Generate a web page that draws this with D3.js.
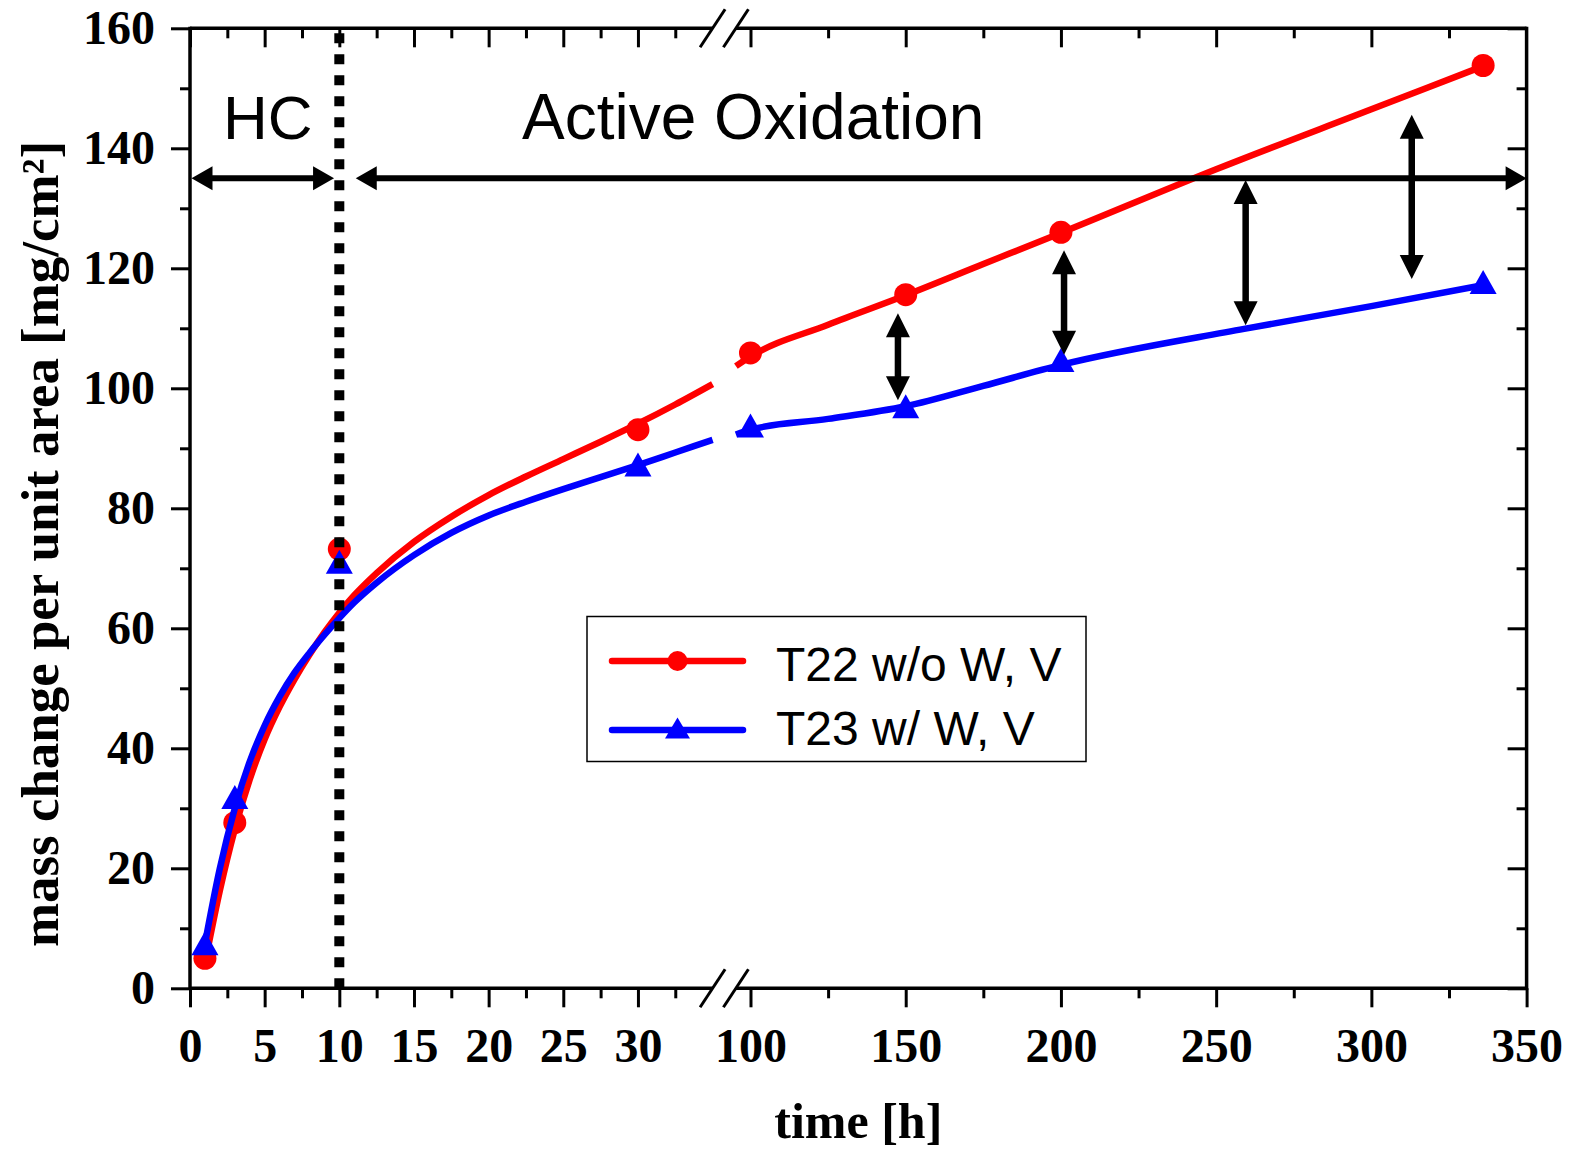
<!DOCTYPE html>
<html>
<head>
<meta charset="utf-8">
<script src="https://cdn.jsdelivr.net/npm/d3@7"></script>
<style>
  body { margin: 0; background: #fff; }
  svg { display: block; }
  .tick text { font-family: "Liberation Serif", "Times New Roman", serif; font-weight: bold; font-size: 48px; fill: #000; }
  .tick line { stroke: #000; stroke-width: 3px; }
</style>
</head>
<body>
<svg id="chart" width="1577" height="1154"></svg>
<script>
// measured points (time in h, mass change in mg/cm2)
var timeH = [1, 3, 10, 30, 100, 150, 200, 336];
var t22 = [5.0, 27.6, 73.2, 93.1, 105.9, 115.6, 126.0, 153.8];
var t23 = [7.5, 31.9, 71.1, 87.3, 93.8, 97.0, 104.7, 117.7];

// fitted curves (left part up to the break, right part after it)
var fitT22Left = [[1.2, 6.7], [2, 16.3], [3, 26.5], [4, 34.8], [5, 41.5], [6, 46.9], [7, 51.5], [8, 55.6], [9, 59.3],
  [10, 62.6], [11, 65.5], [12.5, 69.2], [15, 74.4], [17.5, 78.6], [20, 82.2], [22.5, 85.3], [25, 88.2],
  [27.5, 91.1], [30, 94.1], [32.5, 97.3], [35, 100.7]];
var fitT22Right = [[95.3, 103.7], [100, 105.3], [125, 110.6], [150, 115.5], [175, 120.7], [200, 125.9],
  [250, 136.5], [300, 146.5], [336, 153.7]];
var fitT23Left = [[0.96, 6.9], [2, 20.0], [3, 30.0], [4, 37.8], [5, 43.8], [6, 48.6], [7, 52.6], [8, 55.9], [9, 58.9],
  [10, 61.7], [11, 64.3], [12.5, 67.6], [15, 72.2], [17.5, 75.9], [20, 78.8], [22.5, 81.1], [25, 83.2],
  [27.5, 85.2], [30, 87.2], [32.5, 89.3], [35, 91.4]];
var fitT23Right = [[95.3, 92.3], [100, 93.1], [125, 94.9], [150, 97.0], [175, 100.4], [200, 103.9],
  [259, 109.9], [300, 113.7], [336, 117.2]];

// double arrows showing the gap between both steels
var gapArrowT = [147.5, 201, 259.5, 313];
var gapArrowTop = [112.5, 123.0, 134.7, 145.6];
var gapArrowBottom = [98.0, 105.6, 110.5, 118.2];

// phase arrows: HC and active oxidation
var phaseArrows = [[0, 9.65], [11, 350]];
var phaseLevel = 135;
var hcEnd = 10;

// ticks
var xTicksLeft = [0, 5, 10, 15, 20, 25, 30];
var xMinorLeft = [2.5, 7.5, 12.5, 17.5, 22.5, 27.5, 32.5];
var xTicksRight = [100, 150, 200, 250, 300, 350];
var xMinorRight = [125, 175, 225, 275, 325];
var yTicks = [0, 20, 40, 60, 80, 100, 120, 140, 160];
var yMinor = [10, 30, 50, 70, 90, 110, 130, 150];

var legendNames = ["T22 w/o W, V", "T23 w/ W, V"];

var svg = d3.select("#chart");

var plotLeft = 190, plotRight = 1526.6, plotTop = 28.3, plotBottom = 988.3;

// broken time axis: two linear pieces
var xL = d3.scaleLinear().domain([0, 35]).range([plotLeft, 712.6]);
var xR = d3.scaleLinear().domain([95.3, 350]).range([735.9, plotRight]);
var xPos = function(t) { return t <= 35 ? xL(t) : xR(t); };
var y = d3.scaleLinear().domain([0, 160]).range([plotBottom, plotTop]);

function noDomain(g) { g.select(".domain").remove(); }

// bottom axis
svg.append("g").attr("transform", "translate(0," + plotBottom + ")")
  .call(d3.axisBottom(xL).tickValues(xTicksLeft).tickSize(19).tickPadding(21)).call(noDomain);
svg.append("g").attr("transform", "translate(0," + plotBottom + ")")
  .call(d3.axisBottom(xL).tickValues(xMinorLeft).tickSize(10).tickFormat("")).call(noDomain);
svg.append("g").attr("transform", "translate(0," + plotBottom + ")")
  .call(d3.axisBottom(xR).tickValues(xTicksRight).tickSize(19).tickPadding(21)).call(noDomain);
svg.append("g").attr("transform", "translate(0," + plotBottom + ")")
  .call(d3.axisBottom(xR).tickValues(xMinorRight).tickSize(10).tickFormat("")).call(noDomain);

// top axis, ticks inward
svg.append("g").attr("transform", "translate(0," + plotTop + ")")
  .call(d3.axisBottom(xL).tickValues(xTicksLeft).tickSize(19).tickFormat("")).call(noDomain);
svg.append("g").attr("transform", "translate(0," + plotTop + ")")
  .call(d3.axisBottom(xL).tickValues(xMinorLeft).tickSize(10).tickFormat("")).call(noDomain);
svg.append("g").attr("transform", "translate(0," + plotTop + ")")
  .call(d3.axisBottom(xR).tickValues(xTicksRight.slice(0, -1)).tickSize(19).tickFormat("")).call(noDomain);
svg.append("g").attr("transform", "translate(0," + plotTop + ")")
  .call(d3.axisBottom(xR).tickValues(xMinorRight).tickSize(10).tickFormat("")).call(noDomain);

// left axis
svg.append("g").attr("transform", "translate(" + plotLeft + ",0)")
  .call(d3.axisLeft(y).tickValues(yTicks).tickSize(19).tickPadding(16)).call(noDomain);
svg.append("g").attr("transform", "translate(" + plotLeft + ",0)")
  .call(d3.axisLeft(y).tickValues(yMinor).tickSize(10).tickFormat("")).call(noDomain);
// right axis, ticks inward
svg.append("g").attr("transform", "translate(" + plotRight + ",0)")
  .call(d3.axisLeft(y).tickValues(yTicks).tickSize(19).tickFormat("")).call(noDomain);
svg.append("g").attr("transform", "translate(" + plotRight + ",0)")
  .call(d3.axisLeft(y).tickValues(yMinor).tickSize(10).tickFormat("")).call(noDomain);

// frame with a gap at the break
var frame = svg.append("g").attr("stroke", "#000").attr("stroke-width", 3.5).attr("fill", "none");
frame.append("line").attr("x1", plotLeft).attr("x2", plotLeft).attr("y1", plotTop - 1.5).attr("y2", plotBottom + 1.5);
frame.append("line").attr("x1", plotRight).attr("x2", plotRight).attr("y1", plotTop - 1.5).attr("y2", plotBottom + 1.5);
[plotTop, plotBottom].forEach(function(yy) {
  frame.append("line").attr("x1", plotLeft).attr("x2", xL(35)).attr("y1", yy).attr("y2", yy);
  frame.append("line").attr("x1", xR(95.3)).attr("x2", plotRight).attr("y1", yy).attr("y2", yy);
  // break marks
  [xL(35), xR(95.3)].forEach(function(cx) {
    frame.append("line").attr("x1", cx - 12.5).attr("y1", yy + 19).attr("x2", cx + 12.5).attr("y2", yy - 19)
      .attr("stroke-width", 3);
  });
});

// curves and markers
var line = d3.line().x(function(d) { return xPos(d[0]); }).y(function(d) { return y(d[1]); })
  .curve(d3.curveMonotoneX);

function triangle(cx, cy, w, h) {
  return "M" + cx + "," + (cy - h / 2) + "L" + (cx + w / 2) + "," + (cy + h / 2) + "L" + (cx - w / 2) + "," + (cy + h / 2) + "Z";
}

[fitT22Left, fitT22Right].forEach(function(seg) {
  svg.append("path").datum(seg).attr("d", line).attr("fill", "none")
    .attr("stroke", "#ff0000").attr("stroke-width", 6.5);
});
svg.append("g").selectAll("circle").data(timeH).join("circle")
  .attr("cx", function(d) { return xPos(d); })
  .attr("cy", function(d, i) { return y(t22[i]); })
  .attr("r", 11.5).attr("fill", "#ff0000");

[fitT23Left, fitT23Right].forEach(function(seg) {
  svg.append("path").datum(seg).attr("d", line).attr("fill", "none")
    .attr("stroke", "#0000ff").attr("stroke-width", 6.5);
});
svg.append("g").selectAll("path").data(timeH).join("path")
  .attr("d", function(d, i) { return triangle(xPos(d), y(t23[i]), 27, 24); })
  .attr("fill", "#0000ff");

// dotted line at end of HC stage
svg.append("line")
  .attr("x1", xL(hcEnd)).attr("x2", xL(hcEnd))
  .attr("y1", plotBottom).attr("y2", plotTop)
  .attr("stroke", "#000").attr("stroke-width", 10).attr("stroke-dasharray", "10,11");

// arrows
function arrow(x1, y1, x2, y2, w, headLen, headHalf) {
  var dx = x2 - x1, dy = y2 - y1, len = Math.sqrt(dx * dx + dy * dy);
  var ux = dx / len, uy = dy / len;
  var g = svg.append("g");
  g.append("line")
    .attr("x1", x1 + ux * (headLen - 2)).attr("y1", y1 + uy * (headLen - 2))
    .attr("x2", x2 - ux * (headLen - 2)).attr("y2", y2 - uy * (headLen - 2))
    .attr("stroke", "#000").attr("stroke-width", w);
  [[x1, y1, 1], [x2, y2, -1]].forEach(function(p) {
    var bx = p[0] + p[2] * ux * headLen, by = p[1] + p[2] * uy * headLen;
    g.append("path")
      .attr("d", "M" + p[0] + "," + p[1] + "L" + (bx - uy * headHalf) + "," + (by + ux * headHalf) +
        "L" + (bx + uy * headHalf) + "," + (by - ux * headHalf) + "Z")
      .attr("fill", "#000");
  });
}

phaseArrows.forEach(function(a) {
  arrow(xPos(a[0]) + 1.5, y(phaseLevel), xPos(a[1]), y(phaseLevel), 6, 21, 12);
});
gapArrowT.forEach(function(t, i) {
  arrow(xPos(t), y(gapArrowTop[i]), xPos(t), y(gapArrowBottom[i]), 6.5, 24, 12);
});

// stage labels
svg.append("text").attr("x", 223).attr("y", 139)
  .attr("font-family", "Liberation Sans, Arial, sans-serif").attr("font-size", 62)
  .text("HC");
svg.append("text").attr("x", 522).attr("y", 139)
  .attr("font-family", "Liberation Sans, Arial, sans-serif").attr("font-size", 64)
  .text("Active Oxidation");

// legend
var legend = svg.append("g");
legend.append("rect").attr("x", 587).attr("y", 616.5).attr("width", 499).attr("height", 145)
  .attr("fill", "#fff").attr("stroke", "#000").attr("stroke-width", 1.5);
legendNames.forEach(function(name, i) {
  var ly = 661 + i * 69;
  var color = i === 0 ? "#ff0000" : "#0000ff";
  legend.append("line").attr("x1", 612).attr("x2", 743).attr("y1", ly).attr("y2", ly)
    .attr("stroke", color).attr("stroke-width", 6.5).attr("stroke-linecap", "round");
  if (i === 0) {
    legend.append("circle").attr("cx", 677.5).attr("cy", ly).attr("r", 10).attr("fill", color);
  } else {
    legend.append("path").attr("d", triangle(677.5, ly - 2, 25, 21)).attr("fill", color);
  }
  legend.append("text").attr("x", 776).attr("y", 681 + i * 64)
    .attr("font-family", "Liberation Sans, Arial, sans-serif").attr("font-size", 48)
    .text(name);
});

// axis titles
svg.append("text")
  .attr("x", (plotLeft + plotRight) / 2).attr("y", 1138)
  .attr("text-anchor", "middle")
  .attr("font-family", "Liberation Serif, Times New Roman, serif").attr("font-weight", "bold")
  .attr("font-size", 50)
  .text("time [h]");

svg.append("text")
  .attr("transform", "translate(58,544) rotate(-90)")
  .attr("text-anchor", "middle")
  .attr("font-family", "Liberation Serif, Times New Roman, serif").attr("font-weight", "bold")
  .attr("font-size", 52)
  .attr("textLength", 806).attr("lengthAdjust", "spacingAndGlyphs")
  .text("mass change per unit area [mg/cm²]");
</script>
</body>
</html>
